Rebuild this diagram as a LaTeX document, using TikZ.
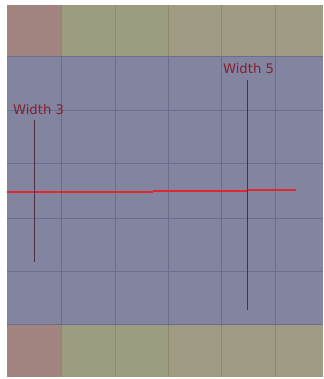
\documentclass[tikz,border=0pt]{standalone}
\usepackage{fontspec}
\setmainfont{DejaVu Sans}
\begin{document}
\begin{tikzpicture}[x=1pt,y=-1pt,
  lbl/.style={text=labelred,font=\fontsize{13.2}{15}\selectfont,inner sep=0pt},
  gridln/.style={draw=gridc,line width=1pt},
  marker/.style={draw=markc,line width=1.3pt},
  redseg/.style={fill=redc}]
\definecolor{pinkc}{HTML}{A28580}
\definecolor{olivea}{HTML}{9C9D80}
\definecolor{oliveb}{HTML}{A09C83}
\definecolor{purplec}{HTML}{8284A0}
\definecolor{gridc}{HTML}{6C6C8E}
\definecolor{gridt}{HTML}{8A8A70}
\definecolor{labelred}{HTML}{85202E}
\definecolor{markc}{HTML}{4E3044}
\definecolor{redc}{HTML}{E0262E}
\useasboundingbox (0,0) rectangle (323,379);
\fill[white] (0,0) rectangle (323,379);
% rows
\fill[purplec] (7,57) rectangle (323,324);
\fill[pinkc] (7,5) rectangle (61,57);
\fill[pinkc] (7,324) rectangle (61,377);
\fill[olivea] (61,5) rectangle (168,57);
\fill[oliveb] (168,5) rectangle (323,57);
\fill[olivea] (61,324) rectangle (168,377);
\fill[oliveb] (168,324) rectangle (323,377);
% grid lines
\foreach \x in {61,115,168,221,275} {
  \draw[draw=gridt,line width=1pt] (\x,5) -- (\x,57);
  \draw[draw=gridt,line width=1pt] (\x,324) -- (\x,377);
  \draw[gridln] (\x,57) -- (\x,324);
}
\foreach \y in {57,111,164,218,271,324} {
  \draw[gridln] (7,\y) -- (323,\y);
}
% red line (slightly stepped)
\fill[redseg] (7,191) rectangle (57,193);
\fill[redseg] (57,190.5) rectangle (153,192.5);
\fill[redseg] (153,189.7) rectangle (248,191.7);
\fill[redseg] (248,188.8) rectangle (296,190.8);
% markers
\node[lbl] (w3) at (38.5,109.5) {Width 3};
\node[lbl] (w5) at (248.5,68.5) {Width 5};
\coordinate (w3t) at (34.5,120);
\coordinate (w3b) at (34.5,262);
\coordinate (w5t) at (247.5,80);
\coordinate (w5b) at (247.5,310);
\draw[marker] (w3t) -- (w3b);
\draw[marker] (w5t) -- (w5b);
\end{tikzpicture}
\end{document}
